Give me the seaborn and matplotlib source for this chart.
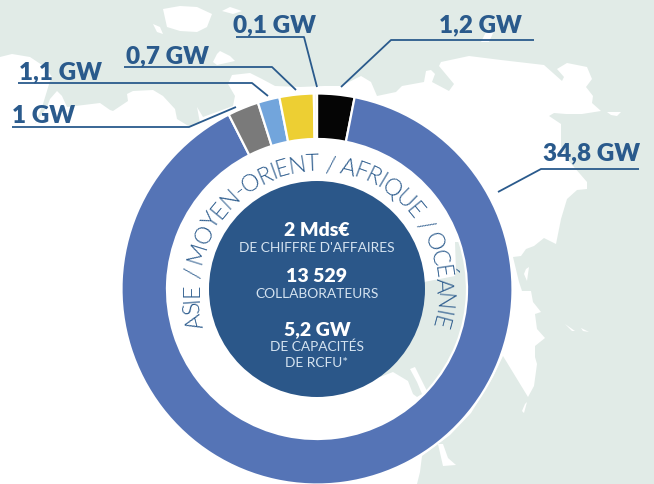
#donut of capacity by technology, asia / middle east / africa / oceania
import numpy as np
import matplotlib
matplotlib.use("Agg")
import matplotlib.pyplot as plt
from matplotlib.patches import Circle
from matplotlib.textpath import TextPath
from matplotlib.font_manager import FontProperties
import seaborn as sns

sns.set_theme(style="white")
plt.rcParams['font.family'] = ['Lato', 'DejaVu Sans']

# clockwise from 12 o'clock
slice_values = [1.2, 34.8, 1.0, 0.7, 1.1, 0.1]
slice_colors = ['#050505', '#5574b6', '#7a7a7a', '#72a5dc', '#edcf33', '#f7f5ea']

gw_labels = ['1,2 GW', '34,8 GW', '1 GW', '1,1 GW', '0,7 GW', '0,1 GW']
ring_title = 'ASIE / MOYEN-ORIENT / AFRIQUE / OCÉANIE'
center_big = ['2 Mds€', '13 529', '5,2 GW']
center_small = ["DE CHIFFRE D'AFFAIRES", 'COLLABORATEURS', 'DE CAPACITÉS', 'DE RCFU*']

BLUE = '#2a5a8c'
BG = '#e1ebe7'
cx, cy = 317, 290

# map in the background, traced in pixels
land = [(0,58),(12,55),(30,58),(45,68),(52,78),(50,82),(43,105),(35,125),(47,108),(50,100),(57,92),(62,97),
        (67,108),(100,104),(110,111),(113,112),(128,102),(127,95),(133,92),(153,91),(163,97),(175,110),(177,120),
        (190,128),(200,124),(197,108),(203,118),(233,107),(235,97),(228,85),(232,76),(250,74),(262,80),(275,87),
        (300,88),(324,87),(341,87),(361,77),(371,83),(377,97),(396,93),(402,87),(424,83),(426,72),(431,71),
        (435,75),(432,83),(449,92),(454,85),(439,67),(441,63),(469,57),(501,61),(544,66),(562,82),(564,78),
        (557,70),(567,64),(587,68),(592,80),(586,88),(593,97),(592,104),(601,112),(582,115),(566,115),(554,114),
        (549,117),(561,125),(561,147),(567,160),(587,183),(587,190),(577,191),(567,200),(561,220),(556,245),
        (544,239),(534,247),(526,250),(521,257),(513,258),(519,283),(522,292),(531,292),(533,303),(541,313),
        (535,315),(537,330),(545,339),(535,347),(535,358),(537,365),(534,387),(528,398),(503,357),(493,378),
        (471,414),(450,436),(438,445),(422,457),(420,473),(417,485),(0,485)]
land_spur = [(438,445),(443,467),(456,466),(448,459),(443,445)]
islands = [
    [(163,10),(180,7),(197,8),(212,15),(207,28),(197,33),(180,32),(167,28)],
    [(153,25),(160,28),(163,35),(157,33)],
    [(217,55),(220,52),(230,57),(235,62),(217,66),(213,63)],
    [(222,12),(230,8),(242,12),(233,15)],
    [(481,43),(486,33),(494,32),(489,43)],
    [(607,113),(621,113),(617,117),(611,116)],
    [(565,325),(575,332),(572,332)],
    [(581,329),(589,333),(583,332)],
    [(527,403),(524,414),(522,412),(525,405)],
    [(526,270),(529,268),(527,282),(524,275)],
]
# green patch that shows through the hole of the ring
hole_sea = [(455,243),(466,243),(475,280),(475,400),(427,392),(425,388),(415,368),(410,370),(417,383),(422,395),
            (417,398),(413,395),(408,382),(393,373),(380,378),(400,330),(424,283),(455,277),(456,273)]

fig = plt.figure(figsize=(6.54, 4.85), dpi=100, facecolor=BG)
ax = fig.add_axes([0, 0, 1, 1])
ax.set_facecolor(BG)

for shape in [land, land_spur] + islands:
    xs, ys = zip(*shape)
    ax.fill(xs, ys, color='white', lw=0, zorder=1)
xs, ys = zip(*hole_sea)
ax.fill(xs, ys, color=BG, lw=0, zorder=1.5)

# y axis is flipped so counterclock here reads clockwise on screen
wedges, _ = ax.pie(slice_values, colors=sns.color_palette(slice_colors), startangle=-90, counterclock=True,
                   center=(cx, cy), radius=195.5, normalize=True,
                   wedgeprops=dict(width=45.5, edgecolor='white', linewidth=1.6))
for w in wedges:
    w.set_zorder(2)
ax.add_patch(Circle((cx, cy), 108, color='#2b5789', lw=0, zorder=3))

ax.set_xlim(0, 654)
ax.set_ylim(485, 0)
ax.set_aspect('auto')
ax.axis('off')

# leaders and value labels
leaders = [
    ([534,391,341], [41,41,88], gw_labels[0], 480, 32),
    ([639,541,498], [170,170,193], gw_labels[1], 592, 160),
    ([12,189,236], [128,128,108], gw_labels[2], 43.5, 123),
    ([18,252,268], [84,84,97], gw_labels[3], 60.5, 79),
    ([124,272,296], [68,68,91], gw_labels[4], 167.5, 63),
    ([236,304,317], [38,38,88], gw_labels[5], 274.5, 32),
]
for lx, ly, lab, tx, ty in leaders:
    ax.plot(lx, ly, color=BLUE, lw=1.3, zorder=4, solid_capstyle='butt')
    ax.text(tx, ty, lab, color=BLUE, fontsize=17.5, fontweight='heavy', ha='center', va='baseline', zorder=5)

# centre text
big_y = [236, 282, 335]
small_y = [252, 298, 351, 367]
for s, y in zip(center_big, big_y):
    ax.text(317, y, s, color='white', fontsize=14, fontweight='heavy', ha='center', va='baseline', zorder=5)
for s, y in zip(center_small, small_y):
    ax.text(317, y, s, color='#d5e3f0', fontsize=9.9, ha='center', va='baseline', zorder=5)

# title bent round the ring, one letter at a time
fp = FontProperties(family='Lato', weight=300, size=16.8)

def advance(ch):
    # ink box of H?H minus HH leaves the real advance of the letter
    hh = TextPath((0, 0), 'HH', prop=fp).get_extents().width
    hxh = TextPath((0, 0), 'H' + ch + 'H', prop=fp).get_extents().width
    return (hxh - hh) * 100 / 72

r_base = 119
widths = np.array([advance(ch) for ch in ring_title])
arc = np.radians(216) * (r_base + 6)
gap = (arc - widths.sum()) / (len(ring_title) - 1)
pos = -np.radians(108) * (r_base + 6)
for ch, w in zip(ring_title, widths):
    a = (pos + w / 2) / (r_base + 6)
    ax.text(cx + r_base * np.sin(a), cy - r_base * np.cos(a), ch, fontproperties=fp, color=BLUE,
            rotation=-np.degrees(a), rotation_mode='anchor', ha='center', va='baseline', zorder=5)
    pos += w + gap

fig.savefig('out.png', dpi=100, facecolor=BG)
